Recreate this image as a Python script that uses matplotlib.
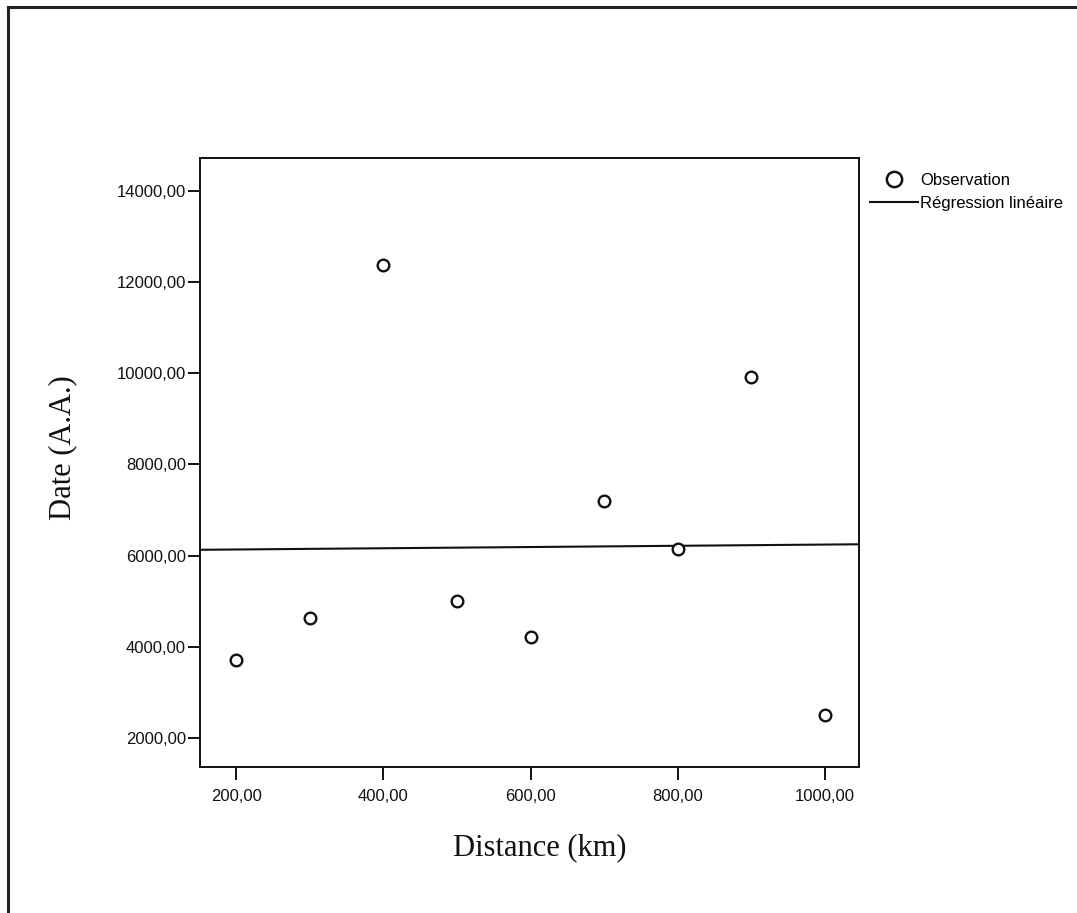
import numpy as np
import matplotlib
matplotlib.use("Agg")
import matplotlib.pyplot as plt
from matplotlib.lines import Line2D

# data
distance = [200, 300, 400, 500, 600, 700, 800, 900, 1000]
dateAA = [3710, 4625, 12375, 5000, 4210, 7205, 6155, 9920, 2500]
xTicks = [200, 400, 600, 800, 1000]
yTicks = [2000, 4000, 6000, 8000, 10000, 12000, 14000]

W, H = 1077, 913
fig = plt.figure(figsize=(W / 100, H / 100), dpi=100)

# outer frame (left and top only)
fig.add_artist(Line2D([8 / W, 8 / W], [0, 1 - 7 / H], color="#222222", lw=2.2))
fig.add_artist(Line2D([8 / W, 1], [1 - 7 / H, 1 - 7 / H], color="#222222", lw=2.2))

ax = fig.add_axes([200 / W, 1 - 767 / H, 659 / W, 609 / H])

xlim = (151, 1046)
ylim = (1365, 14720)

ax.scatter(distance, dateAA, s=70, facecolors="white", edgecolors="#111111",
           linewidths=1.7, zorder=3)

# linear regression
slope, intercept = np.polyfit(distance, dateAA, 1)
xx = np.array(xlim)
ax.plot(xx, slope * xx + intercept, color="#111111", lw=1.5, zorder=2)

ax.set_xlim(xlim)
ax.set_ylim(ylim)
ax.set_xticks(xTicks)
ax.set_yticks(yTicks)
fmt = lambda v: f"{v:.2f}".replace(".", ",")
ax.set_xticklabels([fmt(v) for v in xTicks])
ax.set_yticklabels([fmt(v) for v in yTicks])

for s in ax.spines.values():
    s.set_linewidth(1.4)
    s.set_color("#111111")
ax.tick_params(direction="out", length=9, width=1.4, color="#111111",
               labelsize=12, labelcolor="#111111")
ax.tick_params(axis="y", pad=1)
ax.tick_params(axis="x", pad=6.5)
for lab in ax.get_xticklabels() + ax.get_yticklabels():
    lab.set_family("Liberation Sans")

ax.set_xlabel("Distance (km)", family="Liberation Serif", fontsize=22, color="#111111")
ax.set_ylabel("Date (A.A.)", family="Liberation Serif", fontsize=22, color="#111111")
ax.xaxis.set_label_coords((540 - 200) / 659, -(848 - 767) / 609)
ax.xaxis.label.set_verticalalignment("center")
ax.yaxis.set_label_coords((63 - 200) / 659, (767 - 448) / 609)
ax.yaxis.label.set_verticalalignment("center")

handles = [
    Line2D([], [], ls="none", marker="o", markersize=11, mfc="white",
           mec="#111111", mew=1.8, label="Observation"),
    Line2D([], [], color="#111111", lw=1.5, label="Régression linéaire"),
]
fig.legend(handles=handles, loc="upper left", bbox_to_anchor=(870 / W, 1 - 173 / H),
           frameon=False, borderpad=0, borderaxespad=0, handlelength=2.9,
           handletextpad=0.1, labelspacing=0.5,
           prop={"family": "Liberation Sans", "size": 12})

fig.savefig("out.png", dpi=100)
